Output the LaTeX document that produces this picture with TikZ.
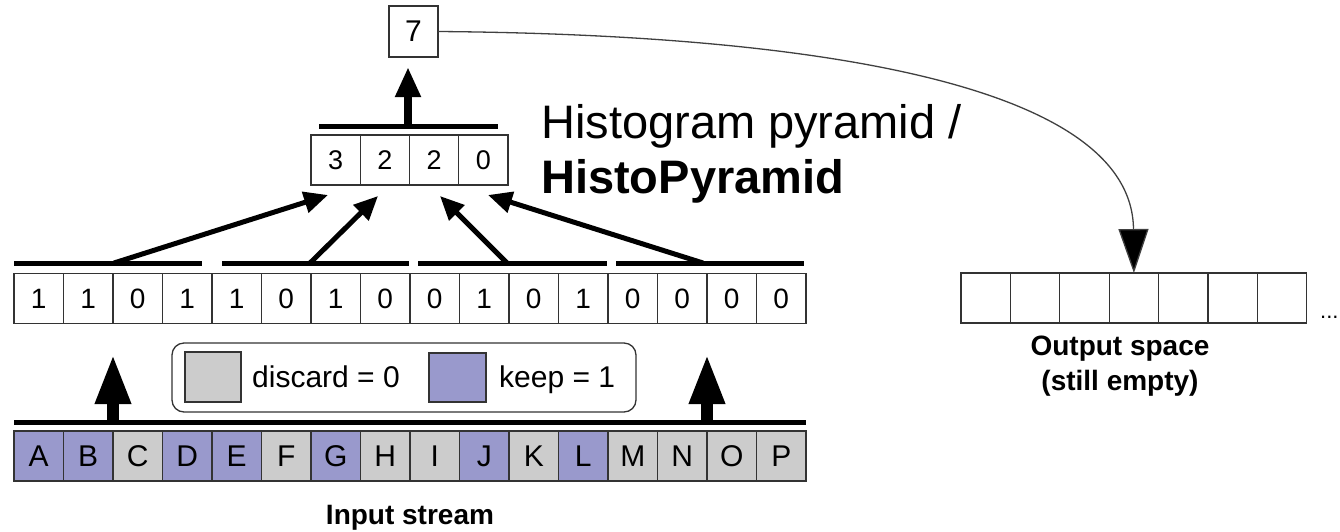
\documentclass[tikz,border=0pt]{standalone}
\usepackage{fontspec}
\setmainfont{Liberation Sans}
\usetikzlibrary{arrows.meta}
\definecolor{keepc}{HTML}{9999CC}
\definecolor{discc}{HTML}{CCCCCC}
\definecolor{edgec}{HTML}{333333}
\definecolor{curvec}{HTML}{404040}
\begin{document}
\begin{tikzpicture}[x=1pt,y=-1pt,
  cellbox/.style={draw=edgec, line width=1.3pt, minimum width=49.5pt, minimum height=50pt, inner sep=0pt, outer sep=0pt},
  letterfont/.style={font=\fontsize{30}{36}\selectfont},
  digitfont/.style={font=\fontsize{28}{32}\selectfont},
  pydigitfont/.style={font=\fontsize{27}{32}\selectfont},
  bar/.style={line width=5pt, black},
  bigup/.style={line width=12pt, -{Triangle[length=50pt,width=33pt]}},
  midup/.style={line width=8pt, -{Triangle[length=30pt,width=24pt]}},
  diag/.style={line width=5pt, -{Triangle[length=24pt,width=21pt]}},
  thinarrow/.style={line width=1.3pt, curvec, -{Triangle[length=44pt,width=30pt,fill=black]}},
  legendfont/.style={font=\fontsize{30}{34}\selectfont},
  labelfont/.style={font=\fontsize{28}{34}\selectfont\bfseries}
]
\useasboundingbox (0,0) rectangle (1340,531);

% input stream
\foreach \l/\c [count=\i from 0] in {A/keepc,B/keepc,C/discc,D/keepc,E/keepc,F/discc,G/keepc,H/discc,I/discc,J/keepc,K/discc,L/keepc,M/discc,N/discc,O/discc,P/discc}
  \node[cellbox, fill=\c, letterfont] (in\i) at ({38.75+49.5*\i},456) {\l};

% bits
\foreach \b [count=\i from 0] in {1,1,0,1,1,0,1,0,0,1,0,1,0,0,0,0}
  \node[cellbox, digitfont] (bit\i) at ({38.75+49.5*\i},298.5) {\b};

% pyramid level
\foreach \b [count=\i from 0] in {3,2,2,0}
  \node[cellbox, minimum width=49.25pt, pydigitfont] (py\i) at ({335.6+49.25*\i},160) {\b};

% top
\node[cellbox, minimum width=49pt, minimum height=51pt, font=\fontsize{30}{34}\selectfont] (seven) at (413.5,31.5) {7};

% output space
\foreach \i in {0,...,6}
  \node[cellbox, minimum width=49.4pt] (out\i) at ({985.7+49.4*\i},298) {};
\node[anchor=base west, inner sep=0pt, font=\fontsize{22}{26}\selectfont] (dots) at (1320,318) {...};

% bars
\draw[bar] (14,422) -- (806,422);
\draw[bar] (14,263) -- (202,263);
\draw[bar] (222,263) -- (409,263);
\draw[bar] (418,263) -- (607,263);
\draw[bar] (616,263) -- (804,263);
\draw[bar] (319,126) -- (498,126);

% arrow coordinates
\coordinate (u1s) at (113,424);
\coordinate (u1e) at (113,354);
\coordinate (u2s) at (707,424);
\coordinate (u2e) at (707,354);
\coordinate (d1s) at (114,263);
\coordinate (d1e) at (328,195);
\coordinate (d2s) at (310,263);
\coordinate (d2e) at (378,196);
\coordinate (d3s) at (507,263);
\coordinate (d3e) at (440,196);
\coordinate (d4s) at (703,263);
\coordinate (d4e) at (488,195);
\coordinate (ps) at (408,126);
\coordinate (pe) at (408,67);

\draw[bigup] (u1s) -- (u1e);
\draw[bigup] (u2s) -- (u2e);
\draw[diag] (d1s) -- (d1e);
\draw[diag] (d2s) -- (d2e);
\draw[diag] (d3s) -- (d3e);
\draw[diag] (d4s) -- (d4e);
\draw[midup] (ps) -- (pe);

\draw[thinarrow] (seven.east) .. controls (750,34) and (1132,70) .. (out3.north);

% legend
\draw[edgec, line width=1.3pt, rounded corners=12pt, fill=white] (172,343) rectangle (636,412);
\node[draw=edgec, line width=1.3pt, fill=discc, minimum width=56pt, minimum height=50pt, inner sep=0pt] (lgd) at (213,377) {};
\node[anchor=base west, inner sep=0pt, legendfont] (lgdt) at (252,387) {discard = 0};
\node[draw=edgec, line width=1.3pt, fill=keepc, minimum width=57pt, minimum height=49pt, inner sep=0pt] (lgk) at (457.5,377.5) {};
\node[anchor=base west, inner sep=0pt, legendfont] (lgkt) at (499,387) {keep = 1};

% labels
\node[anchor=base west, inner sep=0pt, font=\fontsize{47}{55}\selectfont] (t1) at (541,138) {Histogram pyramid /};
\node[anchor=base west, inner sep=0pt, font=\fontsize{47}{55}\selectfont\bfseries] (t2) at (541,193) {HistoPyramid};
\node[anchor=base, labelfont] (inl) at (410,524) {Input stream};
\node[anchor=base, labelfont] (outl1) at (1120,355) {Output space};
\node[anchor=base, labelfont] (outl2) at (1120,390) {(still empty)};
\end{tikzpicture}
\end{document}
